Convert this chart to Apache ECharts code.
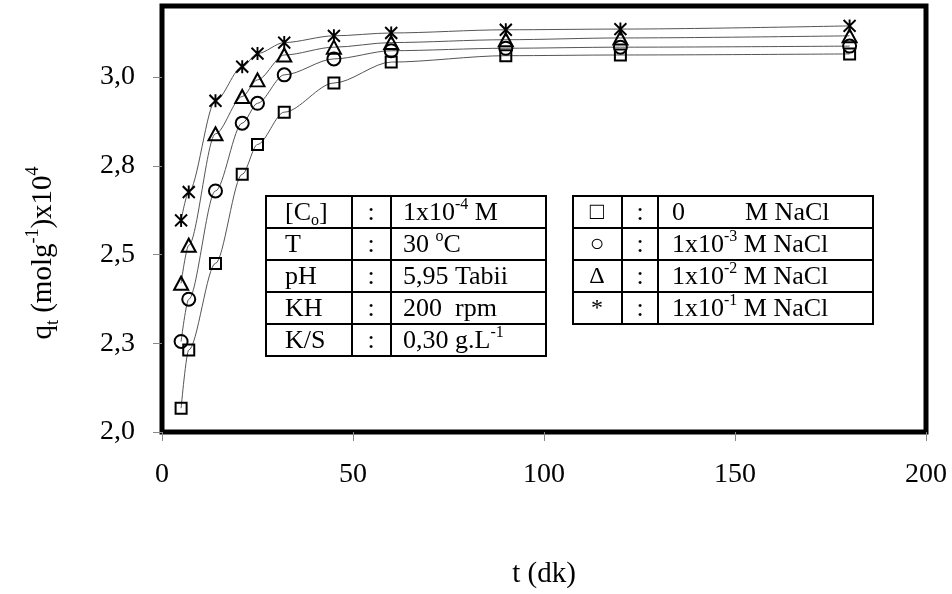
<!DOCTYPE html>
<html><head><meta charset="utf-8">
<script src="https://cdn.jsdelivr.net/npm/echarts@6/dist/echarts.min.js"></script>
<style>html,body{margin:0;padding:0;background:#fff}#c{width:952px;height:594px}</style>
</head><body><div id="c"></div>
<script>
// ---- data ----
const times = [5, 7, 14, 21, 25, 32, 45, 60, 90, 120, 180];
const qSquare = [2.067, 2.231, 2.475, 2.726, 2.810, 2.901, 2.983, 3.042, 3.060, 3.062, 3.065];
const qCircle = [2.255, 2.374, 2.679, 2.870, 2.926, 3.006, 3.051, 3.074, 3.081, 3.084, 3.087];
const qTriangle = [2.419, 2.526, 2.840, 2.945, 2.992, 3.062, 3.084, 3.097, 3.105, 3.110, 3.116];
const qStar = [2.596, 2.676, 2.933, 3.029, 3.066, 3.097, 3.116, 3.124, 3.133, 3.135, 3.144];
const seriesNames = ['0 M NaCl', '1x10-3 M NaCl', '1x10-2 M NaCl', '1x10-1 M NaCl'];
const yTicks = [2.0, 2.25, 2.5, 2.75, 3.0];
const xTickStep = 50;
const table1 = [
  ['[C{sub|o}]', ':', '1x10{sup|-4} M'],
  ['T', ':', '30 {sup|o}C'],
  ['pH', ':', '5,95 Tabii'],
  ['KH', ':', '200  rpm'],
  ['K/S', ':', '0,30 g.L{sup|-1}']
];
const table2 = [
  ['\u25A1', ':', '0{gap| }M NaCl'],
  ['\u25CB', ':', '1x10{sup|-3} M NaCl'],
  ['\u0394', ':', '1x10{sup|-2} M NaCl'],
  ['*', ':', '1x10{sup|-1} M NaCl']
];

// ---- styling / layout ----
const FONT = "'Liberation Serif', 'Times New Roman', serif";
const TFS = 26;
const richSmall = {
  sup: { fontSize: 16, lineHeight: 16, verticalAlign: 'top', fontFamily: FONT, fill: '#000' },
  sub: { fontSize: 16, lineHeight: 24, verticalAlign: 'bottom', fontFamily: FONT, fill: '#000' },
  gap: { width: 60, fontSize: TFS, fontFamily: FONT }
};

function buildTable(rows, cols, top, rowH, textPos, aligns, symSize) {
  const els = [];
  const left = cols[0], right = cols[cols.length - 1];
  const bottom = top + rowH * rows.length;
  els.push({ type: 'rect', shape: { x: left, y: top, width: right - left, height: bottom - top },
    style: { fill: '#fff', stroke: '#000', lineWidth: 2 }, z: 10 });
  for (let i = 1; i < rows.length; i++) {
    els.push({ type: 'line', shape: { x1: left, y1: top + i * rowH, x2: right, y2: top + i * rowH },
      style: { stroke: '#000', lineWidth: 2 }, z: 11 });
  }
  for (let j = 1; j < cols.length - 1; j++) {
    els.push({ type: 'line', shape: { x1: cols[j], y1: top, x2: cols[j], y2: bottom },
      style: { stroke: '#000', lineWidth: 2 }, z: 11 });
  }
  rows.forEach((r, i) => {
    r.forEach((t, j) => {
      const fs = (j === 0 && symSize) ? symSize : TFS;
      els.push({ type: 'text', z: 12,
        style: { text: t, x: textPos[j], y: top + i * rowH + rowH / 2 + 1, align: aligns[j], verticalAlign: 'middle',
          fontSize: fs, lineHeight: 32, fontFamily: FONT, fill: '#000', rich: richSmall } });
    });
  });
  return els;
}

const graphics = [].concat(
  buildTable(table1, [266, 352, 391, 546], 196, 32, [285, 371, 403], ['left', 'center', 'left'], 0),
  buildTable(table2, [573, 622, 658, 873], 196, 32, [597, 640, 672], ['center', 'center', 'left'], 24)
);

function mk(name, vals, symbol, size) {
  return {
    name: name, type: 'line', data: times.map((t, i) => [t, vals[i]]),
    symbol: symbol, symbolSize: size, showAllSymbol: true,
    smooth: 0.3, smoothMonotone: 'x',
    lineStyle: { color: '#555', width: 1 },
    itemStyle: { color: 'rgba(0,0,0,0)', borderColor: '#000', borderWidth: 2 },
    emphasis: { disabled: true }
  };
}

const chart = echarts.init(document.getElementById('c'));
chart.setOption({
  animation: false,
  backgroundColor: '#fff',
  grid: { left: 162, right: 26, top: 6, bottom: 160, show: true, borderColor: '#000', borderWidth: 5, backgroundColor: 'rgba(0,0,0,0)' },
  xAxis: {
    type: 'value', min: 0, max: 200, interval: xTickStep,
    name: 't (dk)', nameLocation: 'middle', nameGap: 128,
    nameTextStyle: { fontSize: 29, fontFamily: FONT, color: '#000' },
    axisLine: { show: false }, splitLine: { show: false },
    axisTick: { show: true, length: 9, lineStyle: { color: '#888', width: 1 } },
    axisLabel: { fontSize: 28, fontFamily: FONT, color: '#000', margin: 29 }
  },
  yAxis: {
    type: 'value', min: 2.0, max: 3.2,
    name: '{b|q}{sub|t}{b| (molg}{sup|-1}{b|)x10}{sup|4}', nameLocation: 'middle', nameGap: 100, nameRotate: 90,
    nameTextStyle: { fontSize: 29, fontFamily: FONT, color: '#000', padding: [0, 68, 0, 0],
      rich: {
        b: { fontSize: 29, lineHeight: 38, fontFamily: FONT, color: '#000' },
        sub: { fontSize: 18, lineHeight: 27, verticalAlign: 'bottom', fontFamily: FONT, color: '#000' },
        sup: { fontSize: 18, lineHeight: 18, verticalAlign: 'top', fontFamily: FONT, color: '#000' }
      } },
    axisLine: { show: false }, splitLine: { show: false },
    axisTick: { show: true, length: 9, customValues: yTicks, lineStyle: { color: '#888', width: 1 } },
    axisLabel: { fontSize: 28, fontFamily: FONT, color: '#000', margin: 27, customValues: yTicks,
      formatter: v => v.toFixed(1).replace('.', ',') }
  },
  series: [
    mk(seriesNames[0], qSquare, 'rect', 11),
    mk(seriesNames[1], qCircle, 'circle', 13),
    mk(seriesNames[2], qTriangle, 'triangle', [14, 13]),
    mk(seriesNames[3], qStar, 'path://M-1,-1L1,1M-1,1L1,-1M0,-1.1L0,1.1', [12, 13])
  ],
  graphic: graphics
});
</script>
</body></html>
